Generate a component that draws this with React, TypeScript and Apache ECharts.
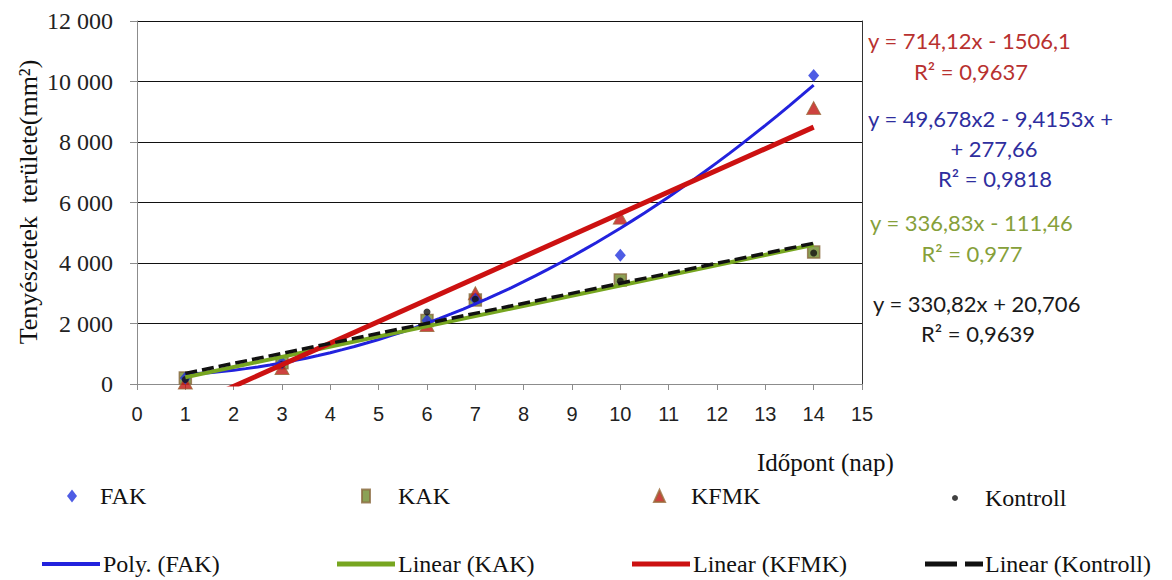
import React, { useEffect, useRef } from "react";
import * as echarts from "echarts";

const days = [1, 3, 6, 7, 10, 14];
const fak = [200, 700, 2100, 2800, 4260, 10200];
const kak = [200, 700, 2100, 2780, 3440, 4360];
const kfmk = [50, 530, 1950, 3000, 5500, 9120];
const kontroll = [150, 650, 2380, 2800, 3400, 4330];

// trendline coefficients (as shown in the chart equations)
const polyFak = [277.66, -9.4153, 49.678]; // c0 + c1 x + c2 x^2
const linKak = [-111.46, 336.83];
const linKfmk = [-1506.1, 714.12];
const linKontroll = [20.706, 330.82];

const xTicks = [0, 15, 1];
const yTicks = [0, 12000, 2000];

const eqTexts = [
  { lines: ["y = 714,12x - 1506,1", "R² = 0,9637"], color: "#B8312F" },
  { lines: ["y = 49,678x2 - 9,4153x +", "+ 277,66", "R² = 0,9818"], color: "#2E2E9E" },
  { lines: ["y = 336,83x - 111,46", "R² = 0,977"], color: "#86A03A" },
  { lines: ["y = 330,82x + 20,706", "R² = 0,9639"], color: "#1a1a1a" },
];

function trend(coefs: number[], x0: number, x1: number, step: number) {
  const pts: number[][] = [];
  for (let x = x0; x <= x1 + 1e-9; x += step) {
    let y = 0;
    coefs.forEach((c, i) => (y += c * Math.pow(x, i)));
    pts.push([x, y]);
  }
  return pts;
}

const pairs = (ys: number[]) => days.map((d, i) => [d, ys[i]]);

export default function App() {
  const ref = useRef<HTMLDivElement>(null);
  useEffect(() => {
    const chart = echarts.init(ref.current!, undefined, { renderer: "svg" });
    const serif = "'Liberation Serif'";
    const sans = "'Liberation Sans'";
    const legText = { fontFamily: serif, fontSize: 24, color: "#111" };
    const mkLeg = (item: any, left: number, top: number, w: number, h: number, pad: number) => ({
      show: true,
      data: [item],
      left,
      top,
      itemWidth: w,
      itemHeight: h,
      padding: 0,
      symbolKeepAspect: false,
      textStyle: { ...legText, padding: [0, 0, 0, pad] },
    });
    const eqGraphics: any[] = [];
    const eqPos = [
      [{ x: 868, y: 40, a: "left" }, { x: 971, y: 71, a: "center" }],
      [{ x: 868, y: 118, a: "left" }, { x: 994, y: 148, a: "center" }, { x: 995, y: 178, a: "center" }],
      [{ x: 870, y: 222, a: "left" }, { x: 972, y: 253, a: "center" }],
      [{ x: 873, y: 303, a: "left" }, { x: 978, y: 333, a: "center" }],
    ];
    eqTexts.forEach((e, i) => {
      e.lines.forEach((t, j) => {
        const p = eqPos[i][j];
        eqGraphics.push({
          type: "text",
          x: p.x,
          y: p.y,
          style: {
            text: t,
            fill: e.color,
            fontFamily: "Lato",
            fontSize: 22,
            textAlign: p.a,
            textVerticalAlign: "middle",
          },
        });
      });
    });

    chart.setOption({
      animation: false,
      backgroundColor: "#fff",
      grid: { left: 137, right: 310, top: 21, bottom: 196, containLabel: false },
      xAxis: {
        type: "value",
        min: xTicks[0],
        max: xTicks[1],
        interval: xTicks[2],
        axisLine: { show: true, lineStyle: { color: "#8c8c8c", width: 1 } },
        axisTick: { show: true, inside: false, length: 6, lineStyle: { color: "#8c8c8c" } },
        axisLabel: { fontFamily: sans, fontSize: 20, color: "#222", margin: 20 },
        splitLine: { show: false },
      },
      yAxis: [
        {
          type: "value",
          min: yTicks[0],
          max: yTicks[1],
          interval: yTicks[2],
          axisLine: { show: true, lineStyle: { color: "#8c8c8c", width: 1 } },
          axisTick: { show: true, length: 7, lineStyle: { color: "#8c8c8c" } },
          axisLabel: {
            fontFamily: serif,
            fontSize: 24,
            color: "#222",
            margin: 24,
            formatter: (v: number) => (v >= 1000 ? `${Math.floor(v / 1000)} ${String(v % 1000).padStart(3, "0")}` : String(v)),
          },
          splitLine: { show: true, lineStyle: { color: "#111", width: 1 } },
        },
        {
          type: "value",
          position: "right",
          min: yTicks[0],
          max: yTicks[1],
          interval: yTicks[2],
          axisLine: { show: true, lineStyle: { color: "#333", width: 1 } },
          axisTick: { show: false },
          axisLabel: { show: false },
          splitLine: { show: false },
        },
      ],
      legend: [
        mkLeg("FAK", 67, 484, 10, 13, 18),
        mkLeg("KAK", 361, 484, 8, 13, 23),
        mkLeg("KFMK", 653, 484, 11, 12, 21),
        mkLeg("Kontroll", 952, 486, 6, 6, 22),
        mkLeg({ name: "Poly. (FAK)", icon: "rect" }, 42, 552, 58, 4, -2),
        mkLeg({ name: "Linear (KAK)", icon: "rect" }, 337, 552, 58, 5, -2),
        mkLeg({ name: "Linear (KFMK)", icon: "rect" }, 632, 552, 58, 5, -2),
        mkLeg({ name: "Linear (Kontroll)", icon: "path://M0,0H32V5H0Z M40,0H58V5H40Z" }, 925, 552, 58, 5, -3),
      ],
      graphic: [
        {
          type: "text",
          x: 28,
          y: 202,
          rotation: Math.PI / 2,
          style: {
            text: "Tenyészetek  területe(mm²)",
            fontFamily: serif,
            fontSize: 26,
            fill: "#111",
            textAlign: "center",
            textVerticalAlign: "middle",
          },
        },
        {
          type: "text",
          x: 757,
          y: 462,
          style: {
            text: "Időpont (nap)",
            fontFamily: serif,
            fontSize: 25,
            fill: "#111",
            textAlign: "left",
            textVerticalAlign: "middle",
          },
        },
        ...eqGraphics,
      ],
      series: [
        {
          name: "FAK",
          type: "scatter",
          data: pairs(fak),
          symbol: "diamond",
          symbolSize: [11, 13],
          itemStyle: { color: "#2233DD" },
          z: 3,
        },
        {
          name: "KAK",
          type: "scatter",
          data: pairs(kak),
          symbol: "rect",
          symbolSize: 12,
          itemStyle: { color: "#6E8A2A", borderColor: "#8B6A40", borderWidth: 1.5 },
          z: 2,
        },
        {
          name: "KFMK",
          type: "scatter",
          data: pairs(kfmk),
          symbol: "triangle",
          symbolSize: [14, 13],
          itemStyle: { color: "#C0140F", borderColor: "#9A6A3A", borderWidth: 1 },
          z: 2,
        },
        {
          name: "Kontroll",
          type: "scatter",
          data: pairs(kontroll),
          symbol: "circle",
          symbolSize: 7,
          itemStyle: { color: "#111" },
          z: 4,
        },
        {
          name: "Poly. (FAK)",
          type: "line",
          data: trend(polyFak, 1, 14, 0.25),
          showSymbol: false,
          symbol: "none",
          itemStyle: { color: "#2222DD" },
          lineStyle: { color: "#2222DD", width: 3 },
          clip: true,
          z: 5,
        },
        {
          name: "Linear (KAK)",
          type: "line",
          data: trend(linKak, 1, 14, 13),
          showSymbol: false,
          symbol: "none",
          itemStyle: { color: "#77A620" },
          lineStyle: { color: "#77A620", width: 4 },
          clip: true,
          z: 5,
        },
        {
          name: "Linear (KFMK)",
          type: "line",
          data: trend(linKfmk, 1, 14, 13),
          showSymbol: false,
          symbol: "none",
          itemStyle: { color: "#CC1111" },
          lineStyle: { color: "#CC1111", width: 5 },
          clip: true,
          z: 5,
        },
        {
          name: "Linear (Kontroll)",
          type: "line",
          data: trend(linKontroll, 1, 14, 13),
          showSymbol: false,
          symbol: "none",
          itemStyle: { color: "#111" },
          lineStyle: { color: "#111", width: 3.5, type: [12, 5] },
          clip: true,
          z: 6,
        },
      ],
    });
    return () => chart.dispose();
  }, []);
  return <div ref={ref} style={{ width: 1172, height: 580, position: "absolute", left: 0, top: 0 }} />;
}
